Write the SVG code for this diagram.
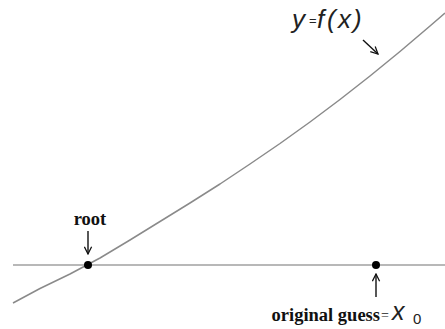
<svg xmlns="http://www.w3.org/2000/svg" width="445" height="329" viewBox="0 0 445 329">
<style>
.axis{stroke:#b8b8b8;stroke-width:2;fill:none}
.curve{stroke:#8a8a8a;stroke-width:1.5;fill:none;stroke-linejoin:round}
.arr{stroke:#111;stroke-width:1.4;fill:none}
.lbl{font-family:"Liberation Serif",serif;font-weight:bold;font-size:18.5px;fill:#111}
.math{font-family:"Liberation Sans",sans-serif;font-style:italic;fill:#222}
.dot{fill:#000}
</style>
<defs>
<marker id="ah" viewBox="0 0 10 10" refX="9" refY="5" markerWidth="9" markerHeight="9" markerUnits="userSpaceOnUse" orient="auto">
<path d="M1,1 L9,5 L1,9" fill="none" stroke="#111" stroke-width="1.4"/>
</marker>
</defs>
<g id="connectors">
<line class="axis" x1="13" y1="265" x2="445" y2="265"/>
<polyline class="curve" points="13,303 40,288.5 70,274 100,258 130,240 160,221.5 190,203 220,184 250,164 280,143.5 310,122 340,99.5 370,76 400,51.5 430,26 445,13"/>
<line class="arr" x1="363" y1="40" x2="378" y2="54" marker-end="url(#ah)"/>
<line class="arr" x1="88" y1="231" x2="88" y2="254" marker-end="url(#ah)"/>
<line class="arr" x1="376" y1="297" x2="376" y2="274" marker-end="url(#ah)"/>
</g>
<g id="func-label">
<text y="28" class="math" font-size="26"><tspan x="292">y</tspan><tspan x="309" y="25" font-size="13" font-style="normal">=</tspan><tspan x="317" y="28">f</tspan><tspan x="327">(</tspan><tspan x="338">x</tspan><tspan x="353">)</tspan></text>
</g>
<g id="root">
<circle class="dot" cx="88" cy="265" r="4"/>
<text class="lbl" x="90" y="225" text-anchor="middle">root</text>
</g>
<g id="guess">
<circle class="dot" cx="376" cy="265" r="4"/>
<text class="lbl" x="380" y="321" text-anchor="end">original guess</text>
<text x="381" y="320" font-family="Liberation Serif,serif" font-size="14" fill="#222">=</text>
<text x="392" y="320" class="math" font-family="Liberation Serif,serif" font-size="25">x</text>
<text x="413" y="324" font-family="Liberation Sans,sans-serif" font-size="15" fill="#222">0</text>
</g>
</svg>
